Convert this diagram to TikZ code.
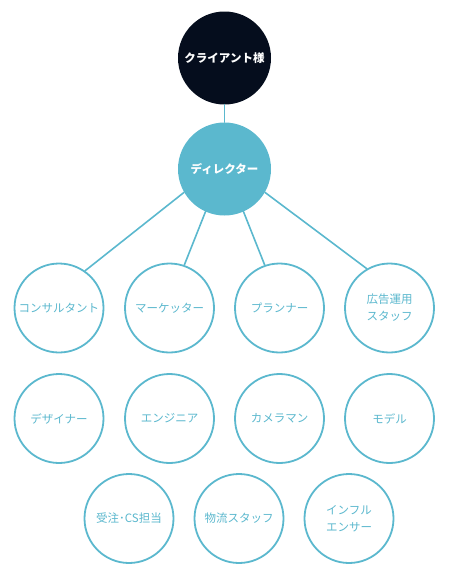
\documentclass[tikz,border=0pt]{standalone}
\usepackage{fontspec}
\newfontfamily\jpfont{Noto Sans CJK JP}
\definecolor{navy}{HTML}{050D1D}
\definecolor{teal}{HTML}{5BB8CE}
\tikzset{
  member/.style={circle, draw=teal, line width=1.8pt, fill=white, minimum size=89pt, inner sep=0pt, text=teal, font=\jpfont\fontsize{11.5}{17}\selectfont, align=center},
  link/.style={teal, line width=1.6pt}
}
\begin{document}
\begin{tikzpicture}[x=1pt, y=-1pt, line cap=round]
  \useasboundingbox (0,0) rectangle (449,584);
  % top: client and director
  \node[circle, fill=navy, minimum size=93pt, inner sep=0pt, text=white, font=\jpfont\bfseries\fontsize{11.5}{14}\selectfont] (client) at (224.5,58) {クライアント様};
  \node[circle, fill=teal, minimum size=93pt, inner sep=0pt, text=white, font=\jpfont\bfseries\fontsize{11.5}{14}\selectfont] (dir) at (224.5,169) {ディレクター};
  \draw[link] (client.south) -- (dir.north);
  % staff circles
  \foreach \n/\x/\y/\t in {c1/59/308/コンサルタント, c2/169.5/308/マーケッター, c3/279.5/308/プランナー, c4/389.5/308/{広告運用\\スタッフ},
      d1/59/418.5/デザイナー, d2/169.5/418.5/エンジニア, d3/279.5/418.5/カメラマン, d4/389.5/418.5/モデル,
      e1/129/518.5/受注･CS担当, e2/239/518.5/物流スタッフ, e3/349/518.5/{インフル\\エンサー}}
    \node[member] (\n) at (\x,\y) {\t};
  % links from director to first row
  \draw[link] (dir.210) -- (c1.55);
  \draw[link] (dir.246) -- (c2.71);
  \draw[link] (dir.294) -- (c3.109);
  \draw[link] (dir.330) -- (c4.120);
\end{tikzpicture}
\end{document}
